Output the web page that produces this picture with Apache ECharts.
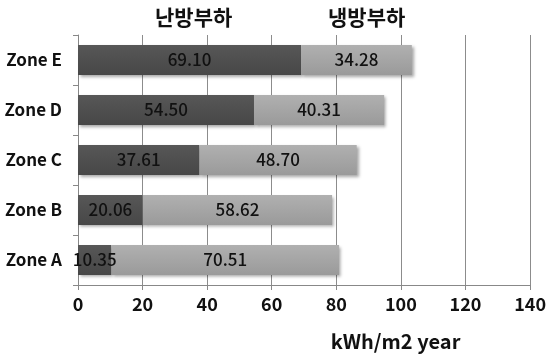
<!DOCTYPE html>
<html>
<head>
<meta charset="utf-8">
<script src="https://cdn.jsdelivr.net/npm/echarts@6/dist/echarts.min.js"></script>
<style>
  html, body { margin: 0; padding: 0; background: #fff; }
  #chart { width: 549px; height: 356px; }
</style>
</head>
<body>
<div id="chart"></div>
<script>
// Annual heating / cooling load per zone (kWh/m2 year)
const zones = ['Zone A', 'Zone B', 'Zone C', 'Zone D', 'Zone E'];
const heatingLoad = [10.35, 20.06, 37.61, 54.50, 69.10];
const coolingLoad = [70.51, 58.62, 48.70, 40.31, 34.28];
const seriesNames = ['난방부하', '냉방부하'];
const xTicks = { min: 0, max: 140, interval: 20 };

const FONT = '"Noto Sans CJK KR", "Noto Sans", sans-serif';

function grad(top, bottom) {
  return new echarts.graphic.LinearGradient(0, 0, 0, 1, [
    { offset: 0, color: top },
    { offset: 1, color: bottom }
  ]);
}

const barShadow = {
  shadowColor: 'rgba(0,0,0,0.35)',
  shadowBlur: 3,
  shadowOffsetX: 2,
  shadowOffsetY: 2
};

const labelStyle = {
  show: true,
  position: 'inside',
  color: '#111',
  fontFamily: FONT,
  fontSize: 17,
  fontWeight: 500,
  formatter: p => p.value.toFixed(2)
};

const chart = echarts.init(document.getElementById('chart'), null, { renderer: 'canvas' });

chart.setOption({
  animation: false,
  backgroundColor: '#ffffff',
  legend: [
    {
      data: [seriesNames[0]],
      left: 145, top: 2,
      itemWidth: 0, itemHeight: 0,
      textStyle: { fontFamily: FONT, fontSize: 21, fontWeight: 'bold', color: '#111' }
    },
    {
      data: [seriesNames[1]],
      left: 318, top: 2,
      itemWidth: 0, itemHeight: 0,
      textStyle: { fontFamily: FONT, fontSize: 21, fontWeight: 'bold', color: '#111' }
    }
  ],
  grid: { left: 78, right: 15, top: 35, bottom: 69, containLabel: false },
  xAxis: {
    type: 'value',
    min: xTicks.min, max: xTicks.max, interval: xTicks.interval,
    name: 'kWh/m2 year',
    nameLocation: 'middle',
    nameGap: 46,
    nameTextStyle: { fontFamily: FONT, fontSize: 20, fontWeight: 'bold', color: '#111', padding: [0, 0, 0, 183] },
    axisLine: { show: true, lineStyle: { color: '#888', width: 1 } },
    axisTick: { show: true, length: 5, lineStyle: { color: '#888' } },
    axisLabel: { fontFamily: FONT, fontSize: 18, fontWeight: 'bold', color: '#111', margin: 10 },
    splitLine: { show: true, lineStyle: { color: '#8c8c8c', width: 1 } }
  },
  yAxis: {
    type: 'category',
    data: zones,
    axisLine: { show: true, lineStyle: { color: '#888', width: 1 } },
    axisTick: { show: true, length: 5, lineStyle: { color: '#888' } },
    axisLabel: { fontFamily: FONT, fontSize: 17, fontWeight: 'bold', color: '#111', margin: 16 },
    splitLine: { show: false }
  },
  series: [
    {
      name: seriesNames[0],
      type: 'bar',
      stack: 'load',
      barCategoryGap: '40%',
      data: heatingLoad,
      itemStyle: Object.assign({ color: grad('#575757', '#474747') }, barShadow),
      label: labelStyle
    },
    {
      name: seriesNames[1],
      type: 'bar',
      stack: 'load',
      barCategoryGap: '40%',
      data: coolingLoad,
      itemStyle: Object.assign({ color: grad('#b0b0b0', '#9a9a9a') }, barShadow),
      label: labelStyle
    }
  ]
});
</script>
</body>
</html>
